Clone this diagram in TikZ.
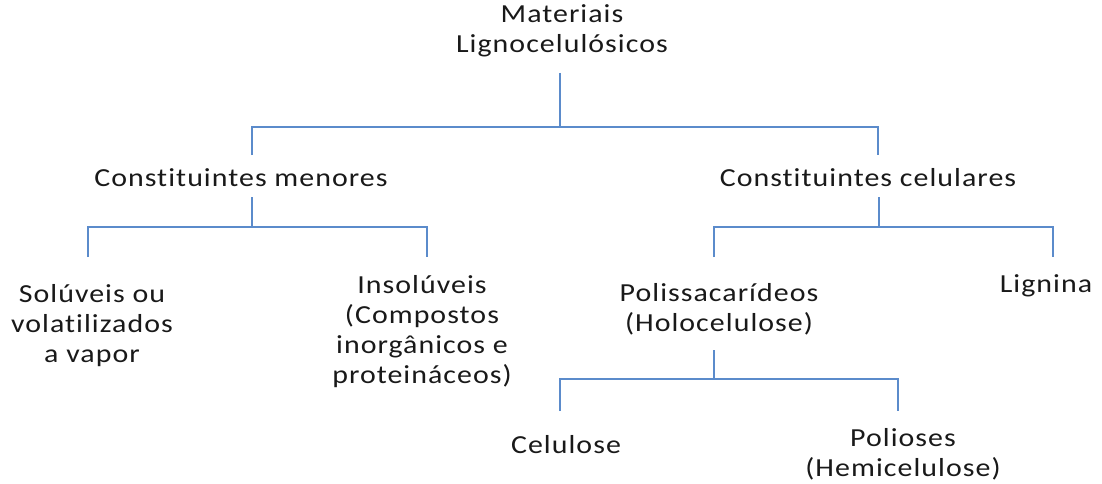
\documentclass[tikz,border=0pt]{standalone}
\usepackage{fontspec}
\setmainfont{Carlito}[LetterSpace=4,FakeStretch=1.15,Ligatures={NoCommon}]
\definecolor{linec}{HTML}{5B8BCB}
\begin{document}
\begin{tikzpicture}[x=1pt,y=-1pt,
  lbl/.style={font=\fontsize{26}{30}\selectfont, align=center, inner sep=0pt, anchor=base, text=black!90},
  conn/.style={draw=linec, line width=1.2pt}]
\useasboundingbox (0,0) rectangle (1102,484);
% nodes (anchored at the baseline of their last line)
\node[lbl] (mat) at (562,53) {Materiais\\Lignocelulósicos};
\node[lbl] (men) at (241,186) {Constituintes menores};
\node[lbl] (cel) at (868,186) {Constituintes celulares};
\node[lbl] (sol) at (92,362) {Solúveis ou\\volatilizados\\a vapor};
\node[lbl] (ins) at (422,383) {Insolúveis\\(Compostos\\inorgânicos e\\proteináceos)};
\node[lbl] (pol) at (719,331) {Polissacarídeos\\(Holocelulose)};
\node[lbl] (lig) at (1046,292) {Lignina};
\node[lbl] (clu) at (566,453) {Celulose};
\node[lbl] (poi) at (903,476) {Polioses\\(Hemicelulose)};
% connector end points
\coordinate (matb) at (560,73);
\coordinate (menT) at (252,155);
\coordinate (celT) at (878,155);
\coordinate (menb) at (252,197);
\coordinate (celb) at (879,197);
\coordinate (solT) at (88,257);
\coordinate (insT) at (427,257);
\coordinate (polT) at (714,257);
\coordinate (ligT) at (1053,257);
\coordinate (polb) at (714,350);
\coordinate (cluT) at (560,411);
\coordinate (poiT) at (898,411);
% connectors
\draw[conn] (matb) -- (560,127);
\draw[conn] (menT) |- (celT |- 0,127) -- (celT);
\draw[conn] (menb) -- (252,227);
\draw[conn] (solT) |- (insT |- 0,227) -- (insT);
\draw[conn] (celb) -- (879,227);
\draw[conn] (polT) |- (ligT |- 0,227) -- (ligT);
\draw[conn] (polb) -- (714,379);
\draw[conn] (cluT) |- (poiT |- 0,379) -- (poiT);
\end{tikzpicture}
\end{document}
